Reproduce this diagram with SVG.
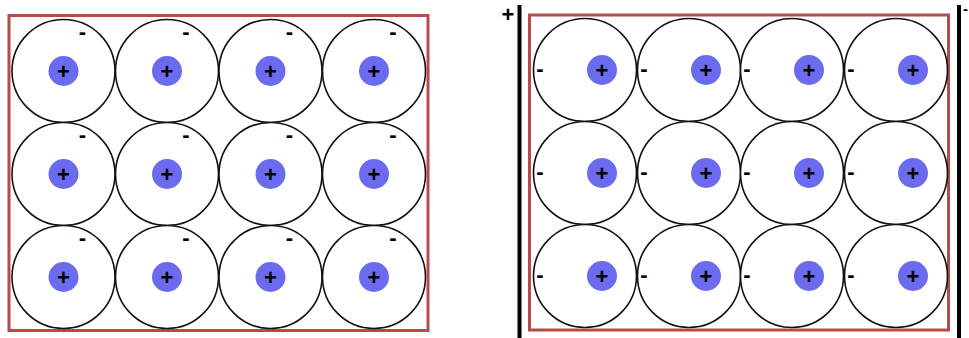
<svg xmlns="http://www.w3.org/2000/svg" width="969" height="338" viewBox="0 0 969 338">
<defs>
<style>
.box{fill:none;stroke:#b84a4a;stroke-width:3}
.atom{fill:#fff;stroke:#111;stroke-width:1.6}
.core{fill:#6b6bf0}
.plus{font-family:"Liberation Sans",Arial,sans-serif;font-size:22px;font-weight:bold;fill:#000;text-anchor:middle}
.minus{font-family:"Liberation Sans",Arial,sans-serif;font-size:22px;font-weight:bold;fill:#000;text-anchor:middle}
.plate{stroke:#000;stroke-width:4}
</style>
<g id="atomL">
<circle class="atom" r="51.5"/>
<circle class="core" cx="0" cy="0" r="15"/>
<text class="plus" x="0" y="8">+</text>
<text class="minus" x="19" y="-32">-</text>
</g>
<g id="atomR">
<circle class="atom" r="51.5"/>
<circle class="core" cx="17" cy="0" r="15"/>
<text class="plus" x="17" y="8">+</text>
<text class="minus" x="-45" y="6">-</text>
</g>
</defs>
<rect fill="#fff" width="969" height="338"/>
<g id="left-panel">
<rect class="box" x="9" y="15.5" width="419" height="315"/>
<g id="L11"><use href="#atomL" x="63.5" y="71"/></g>
<g id="L12"><use href="#atomL" x="167" y="71"/></g>
<g id="L13"><use href="#atomL" x="270.5" y="71"/></g>
<g id="L14"><use href="#atomL" x="374" y="71"/></g>
<g id="L21"><use href="#atomL" x="63.5" y="174"/></g>
<g id="L22"><use href="#atomL" x="167" y="174"/></g>
<g id="L23"><use href="#atomL" x="270.5" y="174"/></g>
<g id="L24"><use href="#atomL" x="374" y="174"/></g>
<g id="L31"><use href="#atomL" x="63.5" y="277"/></g>
<g id="L32"><use href="#atomL" x="167" y="277"/></g>
<g id="L33"><use href="#atomL" x="270.5" y="277"/></g>
<g id="L34"><use href="#atomL" x="374" y="277"/></g>
</g>
<g id="right-panel">
<rect class="box" x="529.5" y="15" width="419" height="315"/>
<g id="R11"><use href="#atomR" x="585" y="70"/></g>
<g id="R12"><use href="#atomR" x="689" y="70"/></g>
<g id="R13"><use href="#atomR" x="792" y="70"/></g>
<g id="R14"><use href="#atomR" x="896" y="70"/></g>
<g id="R21"><use href="#atomR" x="585" y="173"/></g>
<g id="R22"><use href="#atomR" x="689" y="173"/></g>
<g id="R23"><use href="#atomR" x="792" y="173"/></g>
<g id="R24"><use href="#atomR" x="896" y="173"/></g>
<g id="R31"><use href="#atomR" x="585" y="276"/></g>
<g id="R32"><use href="#atomR" x="689" y="276"/></g>
<g id="R33"><use href="#atomR" x="792" y="276"/></g>
<g id="R34"><use href="#atomR" x="896" y="276"/></g>
</g>
<g id="plates">
<line class="plate" x1="519.5" y1="5" x2="519.5" y2="338"/>
<line class="plate" x1="959" y1="5" x2="959" y2="338"/>
<text class="plus" x="508" y="22">+</text>
<text class="minus" x="968" y="14" style="text-anchor:end;font-size:15px">-</text>
</g>
</svg>
